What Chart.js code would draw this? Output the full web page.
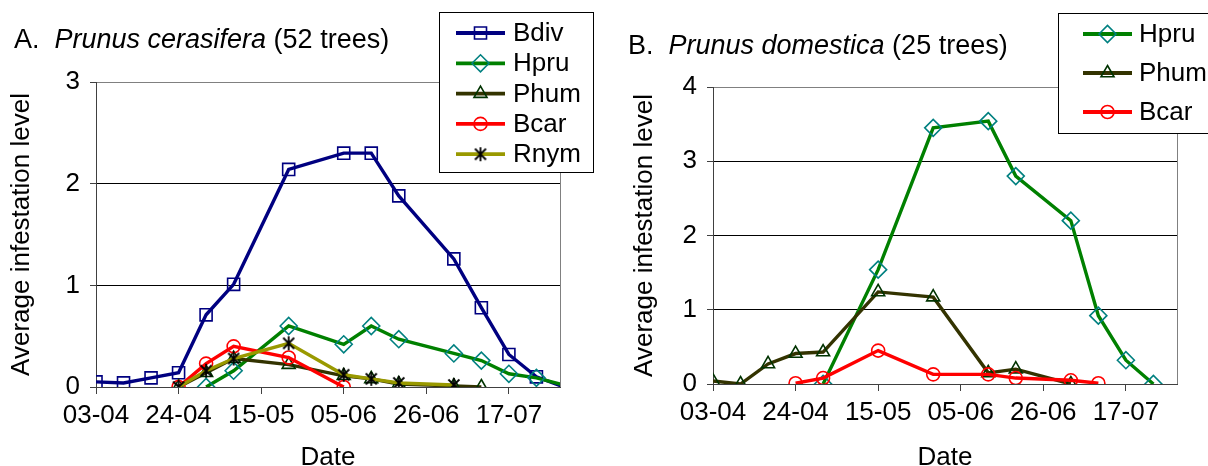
<!DOCTYPE html>
<html><head><meta charset="utf-8">
<script src="https://cdn.jsdelivr.net/npm/chart.js@4/dist/chart.umd.min.js"></script>
<style>
html,body{margin:0;padding:0;background:#fff;overflow:hidden;width:1208px;height:466px;}
.panel{position:absolute;top:0;width:604px;height:480px;}
canvas{display:block;}
</style></head><body>
<div class="panel" style="left:0"><canvas id="cA" width="604" height="480"></canvas></div>
<div class="panel" style="left:604px"><canvas id="cB" width="604" height="480"></canvas></div>
<script>
// ---------- data ----------
const tickLabels = ['03-04', '24-04', '15-05', '05-06', '26-06', '17-07'];

// Panel A: Prunus cerasifera (52 trees)
const bdivDatesA = ['03-04','10-04','17-04','24-04','01-05','08-05','22-05','05-06','12-06','19-06','03-07','10-07','17-07','24-07','31-07'];
const bdivA      = [0.05, 0.04, 0.09, 0.14, 0.71, 1.01, 2.14, 2.30, 2.30, 1.88, 1.26, 0.78, 0.32, 0.10, 0.00];
const hpruDatesA = ['01-05','08-05','22-05','05-06','12-06','19-06','03-07','10-07','17-07','24-07','31-07'];
const hpruA      = [0.00, 0.16, 0.60, 0.42, 0.60, 0.47, 0.33, 0.26, 0.13, 0.09, 0.02];
const phumDatesA = ['24-04','01-05','08-05','22-05','05-06','12-06','19-06','03-07','10-07'];
const phumA      = [0.00, 0.14, 0.28, 0.22, 0.11, 0.08, 0.03, 0.01, 0.00];
const bcarDatesA = ['24-04','01-05','08-05','22-05','05-06'];
const bcarA      = [0.00, 0.23, 0.40, 0.29, 0.00];
const rnymDatesA = ['24-04','01-05','08-05','22-05','05-06','12-06','19-06','03-07'];
const rnymA      = [0.00, 0.16, 0.28, 0.43, 0.12, 0.08, 0.04, 0.02];

// Panel B: Prunus domestica (25 trees)
const hpruDatesB = ['01-05','15-05','29-05','12-06','19-06','03-07','10-07','17-07','24-07'];
const hpruB      = [0.00, 1.54, 3.45, 3.54, 2.80, 2.20, 0.92, 0.32, 0.00];
const phumDatesB = ['03-04','10-04','17-04','24-04','01-05','15-05','29-05','12-06','19-06','03-07'];
const phumB      = [0.04, 0.00, 0.27, 0.41, 0.43, 1.24, 1.17, 0.15, 0.20, 0.00];
const bcarDatesB = ['24-04','01-05','15-05','29-05','12-06','19-06','03-07','10-07'];
const bcarB      = [0.01, 0.08, 0.45, 0.13, 0.13, 0.08, 0.05, 0.01];

// ---------- helpers ----------
const FONT = '"Liberation Sans", Arial, sans-serif';
const X_MAX = 118;
function dayOf(s) {
  const [d, m] = s.split('-').map(Number);
  return Math.round((Date.UTC(2001, m - 1, d) - Date.UTC(2001, 3, 3)) / 86400000);
}
function pts(dates, vals) { return dates.map((d, i) => ({x: dayOf(d), y: vals[i]})); }

// asterisk marker (Excel style)
const star = document.createElement('canvas');
star.width = 16; star.height = 16;
(function () {
  const c = star.getContext('2d');
  c.strokeStyle = '#000'; c.lineWidth = 1.8;
  c.beginPath();
  c.moveTo(8, 1); c.lineTo(8, 15);
  c.moveTo(2.5, 2.5); c.lineTo(13.5, 13.5);
  c.moveTo(13.5, 2.5); c.lineTo(2.5, 13.5);
  c.stroke();
})();

const STYLES = {
  Bdiv: {line: '#000080', mk: '#000080', ps: 'rect', r: 8.5},
  Hpru: {line: '#008000', mk: '#008080', ps: 'rectRot', r: 8.5},
  Phum: {line: '#333300', mk: '#003300', ps: 'triangle', r: 7.5},
  Bcar: {line: '#FF0000', mk: '#FF0000', ps: 'circle', r: 6.5},
  Rnym: {line: '#999900', mk: '#000000', ps: star, r: 8}
};

function ds(name, data, idx, n) {
  const s = STYLES[name];
  return {
    label: name, data: data,
    borderColor: s.line, borderWidth: 3.4,
    pointStyle: s.ps,
    pointRadius: c => (c.raw && c.raw.x > X_MAX) ? 0 : s.r,
    pointBorderColor: s.mk, pointBackgroundColor: 'rgba(0,0,0,0)',
    pointBorderWidth: 1.6, tension: 0, order: n - idx
  };
}

function drawMarker(ctx, s, x, y) {
  ctx.save();
  ctx.strokeStyle = s.mk; ctx.fillStyle = 'rgba(0,0,0,0)'; ctx.lineWidth = 1.6;
  if (Chart.helpers && Chart.helpers.drawPoint) {
    Chart.helpers.drawPoint(ctx, {pointStyle: s.ps, radius: s.r, borderWidth: 1.6, rotation: 0}, x, y);
  } else if (typeof s.ps === 'object') {
    ctx.drawImage(s.ps, x - 8, y - 8);
  }
  ctx.restore();
}

function makeChart(id, cfg) {
  const deco = {
    id: 'deco' + id,
    beforeDatasetsDraw(chart) {
      const a = chart.chartArea, ctx = chart.ctx;
      ctx.save();
      ctx.strokeStyle = '#808080'; ctx.lineWidth = 1;
      ctx.beginPath();
      ctx.moveTo(Math.round(a.right) + 0.5, a.top);
      ctx.lineTo(Math.round(a.right) + 0.5, a.bottom);
      ctx.stroke();
      ctx.restore();
    },
    afterDraw(chart) {
      const ctx = chart.ctx;
      ctx.save();
      // title
      ctx.fillStyle = '#000'; ctx.textBaseline = 'alphabetic'; ctx.textAlign = 'left';
      let x = cfg.title.x;
      cfg.title.parts.forEach(p => {
        ctx.font = (p.italic ? 'italic ' : '') + cfg.title.size + 'px ' + FONT;
        ctx.fillText(p.t, x, cfg.title.y);
        x += ctx.measureText(p.t).width;
      });
      // legend
      const L = cfg.legend;
      ctx.fillStyle = '#fff';
      ctx.fillRect(L.x, L.y, L.w, L.h);
      ctx.strokeStyle = '#000'; ctx.lineWidth = 1;
      ctx.strokeRect(L.x + 0.5, L.y + 0.5, L.w, L.h);
      L.names.forEach((nm, i) => {
        const s = STYLES[nm];
        const yy = L.row0 + i * L.step;
        ctx.strokeStyle = s.line; ctx.lineWidth = 3.8;
        ctx.beginPath(); ctx.moveTo(L.lx1, yy); ctx.lineTo(L.lx2, yy); ctx.stroke();
        drawMarker(ctx, s, (L.lx1 + L.lx2) / 2, yy);
        ctx.fillStyle = '#000';
        ctx.font = cfg.fontSize + 'px ' + FONT;
        ctx.textBaseline = 'middle';
        ctx.fillText(nm, L.tx, yy + 1);
      });
      ctx.restore();
    }
  };
  return new Chart(document.getElementById(id), {
    type: 'line',
    data: {datasets: cfg.datasets},
    plugins: [deco],
    options: {
      responsive: false, animation: false, devicePixelRatio: 1,
      layout: {padding: {left: 0, top: cfg.area.top, right: 604 - cfg.area.right, bottom: 0}},
      plugins: {legend: {display: false}, tooltip: {enabled: false}, title: {display: false}},
      scales: {
        x: {
          type: 'linear', min: 0, max: X_MAX,
          afterFit: s => { s.height = 480 - cfg.area.bottom; },
          ticks: {stepSize: 21, includeBounds: false, autoSkip: false, maxRotation: 0,
                  callback: (v, i) => tickLabels[i] !== undefined ? tickLabels[i] : '',
                  font: {family: FONT, size: cfg.fontSize}, color: '#000', padding: 6},
          grid: {drawOnChartArea: false, drawTicks: true, tickLength: 7, tickColor: '#404040', lineWidth: 1},
          border: {color: '#404040', width: 1},
          title: {display: true, text: 'Date', font: {family: FONT, size: cfg.fontSize}, color: '#000',
                  padding: {top: 0, bottom: 7}}
        },
        y: {
          min: 0, max: cfg.yMax,
          afterFit: s => { s.width = cfg.area.left; },
          ticks: {stepSize: 1, font: {family: FONT, size: cfg.fontSize}, color: '#000', padding: 10},
          grid: {color: c => (c.tick && c.tick.value === cfg.yMax) ? '#808080' : '#000',
                 tickColor: '#404040', tickLength: 6, lineWidth: 1},
          border: {color: '#404040', width: 1},
          title: {display: true, text: 'Average infestation level', font: {family: FONT, size: cfg.fontSize},
                  color: '#000', padding: {top: cfg.ytPad, bottom: 0}}
        }
      }
    }
  });
}

const namesA = ['Bdiv', 'Hpru', 'Phum', 'Bcar', 'Rnym'];
makeChart('cA', {
  fontSize: 26, yMax: 3, ytPad: 6,
  area: {left: 96, right: 560, top: 82, bottom: 387},
  title: {x: 14, y: 48, size: 27, parts: [{t: 'A.  '}, {t: 'Prunus cerasifera', italic: true}, {t: ' (52 trees)'}]},
  legend: {x: 439, y: 12, w: 154, h: 160, names: namesA, row0: 33, step: 30.3, lx1: 456, lx2: 505, tx: 513},
  datasets: [
    ds('Bdiv', pts(bdivDatesA, bdivA), 0, 5),
    ds('Hpru', pts(hpruDatesA, hpruA), 1, 5),
    ds('Phum', pts(phumDatesA, phumA), 2, 5),
    ds('Bcar', pts(bcarDatesA, bcarA), 3, 5),
    ds('Rnym', pts(rnymDatesA, rnymA), 4, 5)
  ]
});

const namesB = ['Hpru', 'Phum', 'Bcar'];
makeChart('cB', {
  fontSize: 26, yMax: 4, ytPad: 25,
  area: {left: 109, right: 573, top: 87, bottom: 384},
  title: {x: 24, y: 54, size: 27, parts: [{t: 'B.  '}, {t: 'Prunus domestica', italic: true}, {t: ' (25 trees)'}]},
  legend: {x: 454, y: 13, w: 170, h: 120, names: namesB, row0: 34, step: 39, lx1: 479, lx2: 528, tx: 535},
  datasets: [
    ds('Hpru', pts(hpruDatesB, hpruB), 0, 3),
    ds('Phum', pts(phumDatesB, phumB), 1, 3),
    ds('Bcar', pts(bcarDatesB, bcarB), 2, 3)
  ]
});
</script>
</body></html>
